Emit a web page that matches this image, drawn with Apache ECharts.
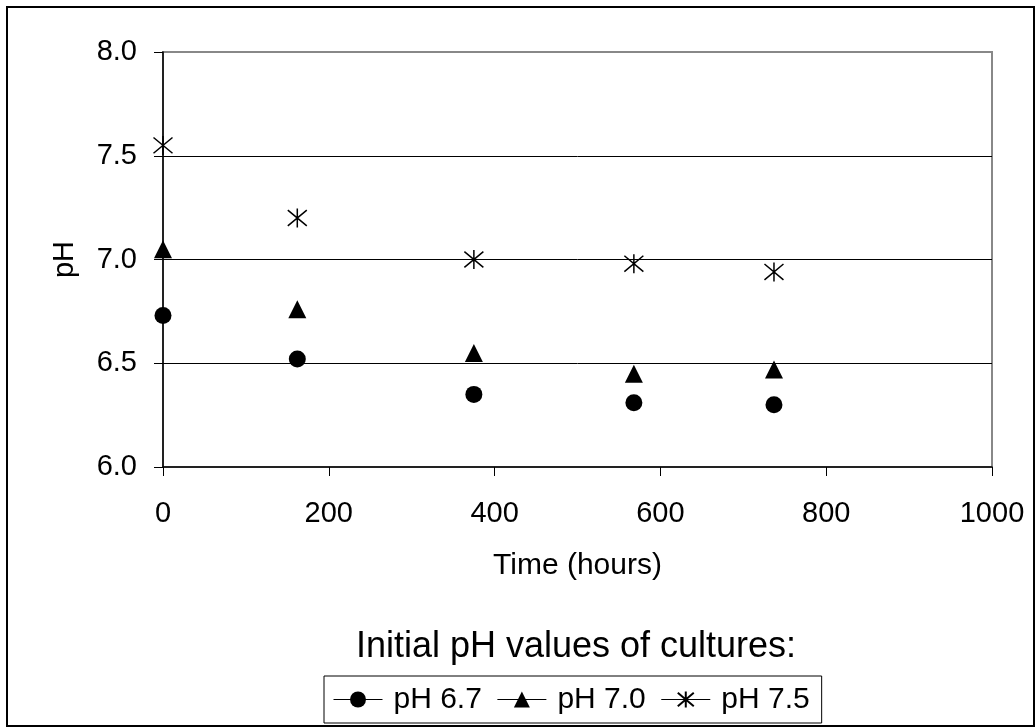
<!DOCTYPE html>
<html>
<head>
<meta charset="utf-8">
<script src="https://cdn.jsdelivr.net/npm/echarts@6/dist/echarts.min.js"></script>
<style>
html,body{margin:0;padding:0;background:#fff;}
#chart{width:1036px;height:728px;}
</style>
</head>
<body>
<div id="chart"></div>
<script>
const timeHours = [0, 162, 375, 568, 737];
const ph67 = [6.73, 6.52, 6.35, 6.31, 6.30];
const ph70 = [7.05, 6.76, 6.55, 6.45, 6.47];
const ph75 = [7.55, 7.20, 7.00, 6.98, 6.94];
const seriesNames = ['pH 6.7', 'pH 7.0', 'pH 7.5'];
const yTicks = [6.0, 6.5, 7.0, 7.5, 8.0];
const xTicks = [0, 200, 400, 600, 800, 1000];

const FONT = 'Liberation Sans, Arial, sans-serif';
const starPath = 'path://M0,0 L20,20 M20,0 L0,20 M10,-2 L10,22';

function pairs(ys){ return timeHours.map((x,i)=>[x, ys[i]]); }

const chart = echarts.init(document.getElementById('chart'));
const mkSeries = (name, data, symbol, size, style) => ({
  name, type: 'line', data: pairs(data), symbol, symbolSize: size,
  lineStyle: { width: 0, opacity: 0 },
  itemStyle: style,
  emphasis: { disabled: true },
  z: 5
});
chart.setOption({
  animation: false,
  backgroundColor: '#fff',
  graphic: [
    { type: 'rect', shape: { x: 7, y: 7, width: 1027, height: 719 },
      style: { fill: 'none', stroke: '#000', lineWidth: 2 }, z: -1 },
    { type: 'text', x: 576, y: 647,
      style: { text: 'Initial pH values of cultures:', font: '36px ' + FONT, fill: '#000',
               textAlign: 'center', textVerticalAlign: 'middle' } }
  ],
  grid: { left: 163, top: 52, right: 44, bottom: 261, show: true,
          borderColor: '#888', borderWidth: 2, backgroundColor: '#fff' },
  xAxis: {
    type: 'value', min: xTicks[0], max: xTicks[xTicks.length-1], interval: 200,
    name: 'Time (hours)', nameLocation: 'middle', nameGap: 84, nameMoveOverlap: false,
    nameTextStyle: { fontFamily: FONT, fontSize: 30, color: '#000' },
    axisLine: { show: true, onZero: false, lineStyle: { color: '#000', width: 1.5 } },
    axisTick: { show: true, inside: false, length: 9, lineStyle: { color: '#000' } },
    axisLabel: { margin: 32, fontFamily: FONT, fontSize: 29, color: '#000',
                 formatter: v => String(v) },
    splitLine: { show: false }
  },
  yAxis: {
    type: 'value', min: yTicks[0], max: yTicks[yTicks.length-1], interval: 0.5,
    name: 'pH', nameLocation: 'middle', nameGap: 84, nameMoveOverlap: false,
    nameTextStyle: { fontFamily: FONT, fontSize: 29, color: '#000' },
    axisLine: { show: true, onZero: false, lineStyle: { color: '#000', width: 1.5 } },
    axisTick: { show: true, inside: false, length: 9, lineStyle: { color: '#000' } },
    axisLabel: { margin: 26, fontFamily: FONT, fontSize: 29, color: '#000',
                 formatter: v => v.toFixed(1) },
    splitLine: { show: true, showMinLine: false, showMaxLine: false,
                 lineStyle: { color: '#000', width: 1 } }
  },
  legend: {
    data: seriesNames, top: 676, left: 324,
    borderColor: '#000', borderWidth: 1, padding: [8, 12, 8, 9],
    itemWidth: 49, itemHeight: 20, itemGap: 15,
    textStyle: { fontFamily: FONT, fontSize: 30, color: '#000', lineHeight: 31,
                 padding: [0, 0, 0, 6] },
    lineStyle: { width: 1, color: '#000', opacity: 1 },
    selectedMode: false
  },
  series: [
    mkSeries(seriesNames[0], ph67, 'circle', 17, { color: '#000' }),
    mkSeries(seriesNames[1], ph70, 'triangle', 18, { color: '#000' }),
    mkSeries(seriesNames[2], ph75, starPath, 19, { color: 'none', borderColor: '#000', borderWidth: 1.5 })
  ]
});
</script>
</body>
</html>
